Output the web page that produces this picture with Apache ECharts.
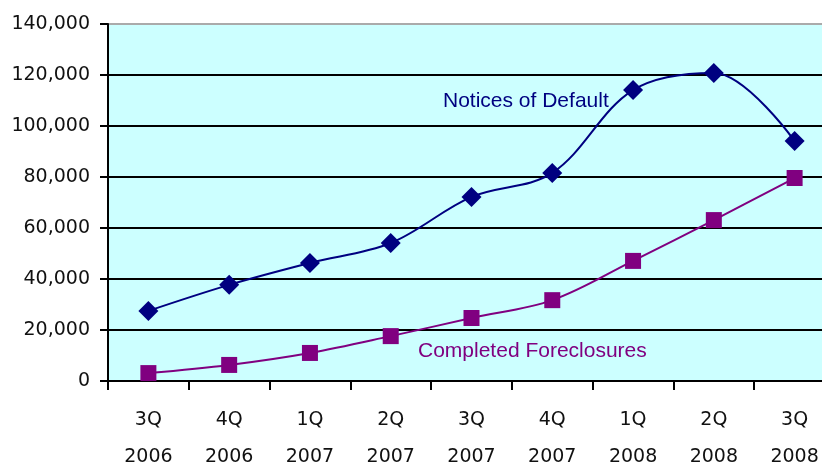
<!DOCTYPE html>
<html>
<head>
<meta charset="utf-8">
<script src="https://cdn.jsdelivr.net/npm/echarts@6/dist/echarts.min.js"></script>
<style>
  html, body { margin: 0; padding: 0; background: #fff; }
  #chart { width: 822px; height: 468px; }
</style>
</head>
<body>
<div id="chart"></div>
<script>
let quarters = ['3Q\n2006', '4Q\n2006', '1Q\n2007', '2Q\n2007', '3Q\n2007', '4Q\n2007', '1Q\n2008', '2Q\n2008', '3Q\n2008'];
let noticesOfDefault = [27500, 37700, 46300, 54100, 72200, 81600, 114100, 120800, 94100];
let completedForeclosures = [3100, 6300, 11000, 17600, 24700, 31700, 47100, 63100, 79600];
let yTicks = [0, 20000, 40000, 60000, 80000, 100000, 120000, 140000];

let chart = echarts.init(document.getElementById('chart'), null, {renderer: 'canvas'});

let axisFont = 'DejaVu Sans';

let option = {
    animation: false,
    grid: {
        left: 108,
        top: 24,
        width: 727,
        height: 357,
        outerBoundsMode: 'none',
        containLabel: false,
        show: true,
        backgroundColor: '#CCFFFF',
        borderWidth: 0
    },
    xAxis: {
        type: 'category',
        data: quarters,
        boundaryGap: true,
        axisLine: {lineStyle: {color: '#000', width: 2}},
        axisTick: {show: true, length: 9, lineStyle: {color: '#000', width: 2}},
        axisLabel: {
            color: '#111',
            fontFamily: axisFont,
            fontSize: 19,
            lineHeight: 37,
            margin: 21
        },
        splitLine: {show: false}
    },
    yAxis: {
        type: 'value',
        min: yTicks[0],
        max: yTicks[yTicks.length - 1],
        interval: 20000,
        axisLine: {show: true, lineStyle: {color: '#000', width: 2}},
        axisTick: {show: true, length: 8, lineStyle: {color: '#000', width: 2}},
        axisLabel: {
            color: '#111',
            fontFamily: axisFont,
            fontSize: 19,
            margin: 18,
            formatter: (v) => v.toLocaleString('en-US')
        },
        splitLine: {
            show: true,
            lineStyle: {
                color: ['#000', '#000', '#000', '#000', '#000', '#000', '#000', '#aaa'],
                width: 2
            }
        }
    },
    series: [
        {
            type: 'line',
            name: 'Notices of Default',
            data: noticesOfDefault,
            smooth: 0.35,
            symbol: 'diamond',
            symbolSize: [20, 20],
            color: '#000080',
            lineStyle: {color: '#000080', width: 2},
            itemStyle: {color: '#000080'}
        },
        {
            type: 'line',
            name: 'Completed Foreclosures',
            data: completedForeclosures,
            smooth: 0.35,
            symbol: 'rect',
            symbolSize: [16, 16],
            color: '#800080',
            lineStyle: {color: '#800080', width: 2},
            itemStyle: {color: '#800080'}
        }
    ],
    graphic: [
        {
            type: 'text',
            left: 443,
            top: 91,
            style: {
                text: 'Notices of Default',
                fill: '#000080',
                font: '21px "Liberation Sans", Arial, sans-serif'
            }
        },
        {
            type: 'text',
            left: 418,
            top: 341,
            style: {
                text: 'Completed Foreclosures',
                fill: '#800080',
                font: '21px "Liberation Sans", Arial, sans-serif'
            }
        }
    ]
};

chart.setOption(option);
window.addEventListener('resize', chart.resize);
</script>
</body>
</html>
